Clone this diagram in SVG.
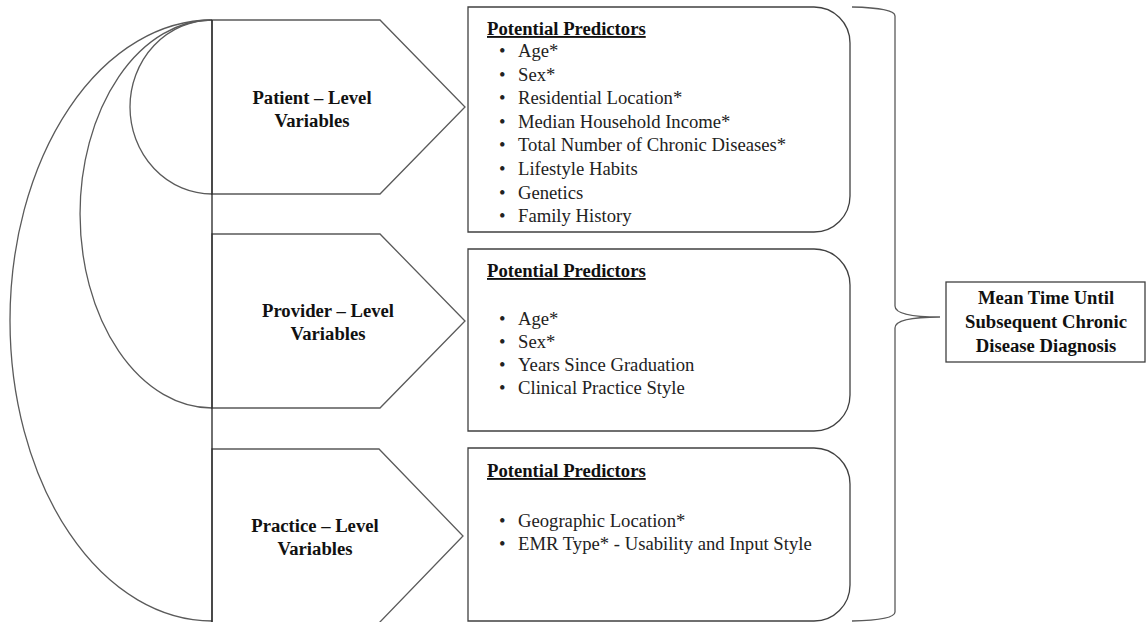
<svg xmlns="http://www.w3.org/2000/svg" width="1146" height="622" viewBox="0 0 1146 622">
<style>
.shape{fill:#fff;stroke:#5a5a5a;stroke-width:1.3}
.arc{fill:none;stroke:#5a5a5a;stroke-width:1.3}
.box{fill:#fff;stroke:#404040;stroke-width:1.3}
.lbl{font-family:"Liberation Serif","Times New Roman",serif;font-size:18.67px;font-weight:bold;fill:#111;text-anchor:middle}
.hdr{font-family:"Liberation Serif","Times New Roman",serif;font-size:18.67px;font-weight:bold;fill:#111;text-decoration:underline}
.item{font-family:"Liberation Serif","Times New Roman",serif;font-size:18.67px;fill:#222}
</style>
<rect width="1146" height="622" fill="#fff"/>
<g id="connectors">
<path class="arc" d="M212,20 A202,300.5 0 0 0 212,621"/>
<path class="arc" d="M212,20 A132,194 0 0 0 212,408"/>
<path class="arc" d="M212,20 A82,87 0 0 0 212,194"/>
<path class="arc" d="M852,7 Q895,8 895,16 L895,306 Q895,317 940,317 Q895,317 895,328 L895,612 Q895,620 852,621"/>
</g>
<g id="patient">
<polygon class="shape" points="212,20 380,20 465,107 380,194 212,194"/>
<text class="lbl" x="312" y="104">Patient – Level</text>
<text class="lbl" x="312" y="127">Variables</text>
</g>
<g id="provider">
<polygon class="shape" points="212,234 380,234 465,321 380,408 212,408"/>
<text class="lbl" x="328" y="317">Provider – Level</text>
<text class="lbl" x="328" y="340">Variables</text>
</g>
<g id="practice">
<polygon class="shape" points="212,449 379,449 463,536 379,623 212,623"/>
<text class="lbl" x="315" y="532">Practice – Level</text>
<text class="lbl" x="315" y="555">Variables</text>
</g>
<line x1="212" y1="20" x2="212" y2="622" stroke="#222" stroke-width="1.3"/>
<g id="patient-predictors">
<path class="box" d="M468,7 H814 A36,36 0 0 1 850,43 V196 A36,36 0 0 1 814,232 H468 Z"/>
<text class="hdr" x="487" y="35">Potential Predictors</text>
<g class="item">
<text x="499" y="57">•</text><text x="518" y="57">Age*</text>
<text x="499" y="80.6">•</text><text x="518" y="80.6">Sex*</text>
<text x="499" y="104.2">•</text><text x="518" y="104.2">Residential Location*</text>
<text x="499" y="127.8">•</text><text x="518" y="127.8">Median Household Income*</text>
<text x="499" y="151.4">•</text><text x="518" y="151.4">Total Number of Chronic Diseases*</text>
<text x="499" y="175">•</text><text x="518" y="175">Lifestyle Habits</text>
<text x="499" y="198.6">•</text><text x="518" y="198.6">Genetics</text>
<text x="499" y="222.2">•</text><text x="518" y="222.2">Family History</text>
</g>
</g>
<g id="provider-predictors">
<path class="box" d="M468,249 H814 A36,36 0 0 1 850,285 V395 A36,36 0 0 1 814,431 H468 Z"/>
<text class="hdr" x="487" y="277">Potential Predictors</text>
<g class="item">
<text x="499" y="325">•</text><text x="518" y="325">Age*</text>
<text x="499" y="348">•</text><text x="518" y="348">Sex*</text>
<text x="499" y="371">•</text><text x="518" y="371">Years Since Graduation</text>
<text x="499" y="394">•</text><text x="518" y="394">Clinical Practice Style</text>
</g>
</g>
<g id="practice-predictors">
<path class="box" d="M468,448 H814 A36,36 0 0 1 850,484 V585 A36,36 0 0 1 814,621 H468 Z"/>
<text class="hdr" x="487" y="477">Potential Predictors</text>
<g class="item">
<text x="499" y="527">•</text><text x="518" y="527">Geographic Location*</text>
<text x="499" y="550">•</text><text x="518" y="550">EMR Type* - Usability and Input Style</text>
</g>
</g>
<g id="outcome">
<rect class="box" x="946" y="282" width="199" height="80"/>
<text class="lbl" x="1046" y="304">Mean Time Until</text>
<text class="lbl" x="1046" y="328">Subsequent Chronic</text>
<text class="lbl" x="1046" y="352">Disease Diagnosis</text>
</g>
</svg>
